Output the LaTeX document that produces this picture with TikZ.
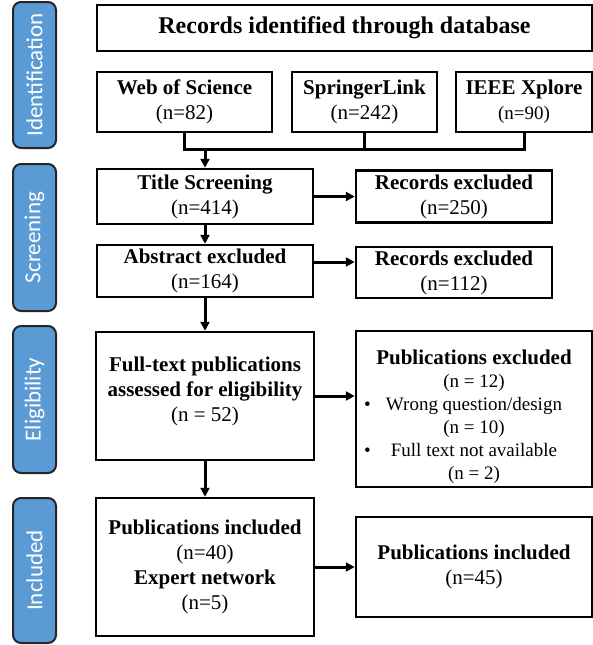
\documentclass[tikz,border=0pt]{standalone}
\usepackage{fontspec}
\setmainfont{Liberation Serif}
\newfontfamily\sidefont{Carlito}
\usetikzlibrary{arrows.meta}

\definecolor{sideblue}{RGB}{91,155,213}

\tikzset{
  box/.style={draw, line width=2.5pt, inner sep=0pt, align=center, font=\fontsize{21}{25}\selectfont},
  phase/.style={draw=black!85, line width=2pt, fill=sideblue, rounded corners=8pt, rotate=90, minimum height=43pt, inner sep=0pt, text=white, font=\sidefont\fontsize{23}{23}\selectfont},
  flow/.style={line width=3pt, -{Triangle[length=9pt,width=9pt]}},
  link/.style={line width=3pt}
}

\begin{document}
\begin{tikzpicture}[x=1pt,y=-1pt]
  \useasboundingbox (0,0) rectangle (593,645);
  % phase labels on the left
  \foreach \nm/\y/\len/\txt in {idn/75/146/Identification, scr/237.5/147/Screening, elg/399.5/147/Eligibility, inc/570.5/145/Included}
  {
    \node [phase, minimum width=\len pt] (\nm) at (34.5,\y) {\txt};
  }

  % identification
  \node [box, minimum width=495pt, minimum height=46pt, font=\bfseries\fontsize{24}{26}\selectfont] (db) at (344.5,28) {Records identified through database};
  \node [box, minimum width=175pt, minimum height=60pt] (wos) at (184.5,102) {\textbf{Web of Science}\\(n=82)};
  \node [box, minimum width=145pt, minimum height=60pt] (spr) at (364.5,102) {\textbf{SpringerLink}\\(n=242)};
  \node [box, minimum width=136pt, minimum height=60pt] (ieee) at (524,102) {\textbf{IEEE Xplore}\\{\fontsize{19}{25}\selectfont(n=90)}};
  \coordinate (jn) at (205,149);

  % screening
  \node [box, minimum width=216pt, minimum height=55pt] (title) at (205,196.5) {\textbf{Title Screening}\\(n=414)};
  \node [box, minimum width=196pt, minimum height=52pt] (rex1) at (454,196.5) {\textbf{Records excluded}\\(n=250)};
  \node [box, minimum width=216pt, minimum height=52pt] (abs) at (205,271) {\textbf{Abstract excluded}\\(n=164)};
  \node [box, minimum width=196pt, minimum height=51pt] (rex2) at (454,272.5) {\textbf{Records excluded}\\(n=112)};

  % eligibility
  \node [box, minimum width=218pt, minimum height=128pt] (full) at (205,396) {\textbf{Full-text publications}\\\textbf{assessed for eligibility}\\(n = 52)\\[-11pt]};
  \node [box, minimum width=236pt, minimum height=156pt, font=\fontsize{19}{23}\selectfont] (pex) at (474,409)
    {\rule{0pt}{30pt}\textbf{\fontsize{21}{23}\selectfont Publications excluded}\\
     (n = 12)\\
     \makebox[220pt]{\rlap{\textbullet}\hfill Wrong question/design\hfill}\\
     (n = 10)\\
     \makebox[220pt]{\rlap{\textbullet}\hfill Full text not available\hfill}\\
     (n = 2)};

  % included
  \node [box, minimum width=218pt, minimum height=138pt] (pinc) at (205,567) {\textbf{Publications included}\\(n=40)\\\textbf{Expert network}\\(n=5)};
  \node [box, minimum width=236pt, minimum height=100pt] (final) at (474,567) {\textbf{Publications included}\\(n=45)};

  % connectors
  \draw [link] (wos.south) |- (ieee.south |- jn) -- (ieee.south);
  \draw [link] (spr.south) -- (spr.south |- jn);
  \draw [flow] (jn) -- (title);
  \draw [flow] (title) -- (abs);
  \draw [flow] (title.east) -- (title.east -| rex1.west);
  \draw [flow] ([yshift=9pt]abs.east) -- ([yshift=9pt]abs.east -| rex2.west);
  \draw [flow] (abs) -- (full);
  \draw [flow] (full.east) -- (full.east -| pex.west);
  \draw [flow] (full) -- (pinc);
  \draw [flow] (pinc) -- (final);
\end{tikzpicture}
\end{document}
